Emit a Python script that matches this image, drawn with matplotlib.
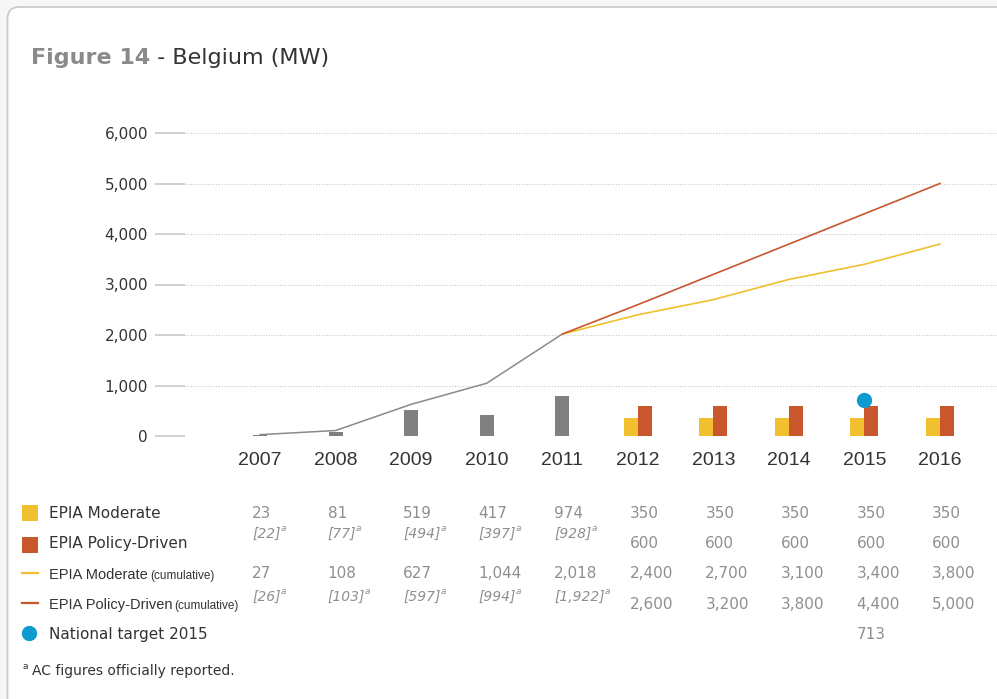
import numpy as np
import matplotlib
matplotlib.use("Agg")
import matplotlib.pyplot as plt
import matplotlib.transforms as mtransforms
from matplotlib.patches import FancyBboxPatch, Rectangle
from matplotlib.lines import Line2D

# ---- data ----
years = ['2007', '2008', '2009', '2010', '2011', '2012', '2013', '2014', '2015', '2016']
n_hist = 5

# historical annual (table values) and bar heights as drawn in the chart
hist_annual = [23, 81, 519, 417, 974]
hist_annual_ac = [22, 77, 494, 397, 928]
hist_bar = [23, 81, 519, 417, 790]        # 2011 bar is drawn lower than the table says
hist_cum = [27, 108, 627, 1044, 2018]
hist_cum_ac = [26, 103, 597, 994, 1922]

# forecasts 2012-2016
mod_annual = [350, 350, 350, 350, 350]
pol_annual = [600, 600, 600, 600, 600]
mod_cum = [2400, 2700, 3100, 3400, 3800]
pol_cum = [2600, 3200, 3800, 4400, 5000]

target_year = '2015'
target_value = 713

legend_labels = ['EPIA Moderate', 'EPIA Policy-Driven', 'EPIA Moderate', 'EPIA Policy-Driven',
                 'National target 2015']

GRAY_BAR = '#808083'
GRAY_LINE = '#8a8a8a'
YELLOW = '#f0c030'
ORANGE = '#c9572e'
BLUE = '#0e9bd0'
TXT = '#333333'
NUM = '#8f8f8f'

plt.rcParams['font.family'] = ['DejaVu Sans']

W, H = 997, 699
fig = plt.figure(figsize=(W / 100, H / 100), dpi=100, facecolor='#f6f6f6')


def fx(px):
    return px / W


def fy(py):
    return 1 - py / H


# white card with rounded corner
card = FancyBboxPatch((0.075, -0.5), 11, 6.92 + 0.5,
                      boxstyle='round,pad=0,rounding_size=0.12',
                      transform=fig.dpi_scale_trans, fc='white', ec='#c8c8c8', lw=1.2, zorder=-10)
fig.add_artist(card)

# ---- chart ----
ax = fig.add_axes([fx(185), fy(436), 1 - fx(185), (436 - 133) / H])
ax.set_facecolor('none')
x = np.arange(len(years))
w = 0.185

ax.bar(x[:n_hist], hist_bar, width=w, color=GRAY_BAR, zorder=2)
ax.bar(x[n_hist:] - w / 2, mod_annual, width=w, color=YELLOW, zorder=2)
ax.bar(x[n_hist:] + w / 2, pol_annual, width=w, color=ORANGE, zorder=2)

ax.plot(x[:n_hist], hist_cum, color=GRAY_LINE, lw=1.1, zorder=3)
ax.plot(x[n_hist - 1:], [hist_cum[-1]] + mod_cum, color=YELLOW, lw=1.2, zorder=3)
ax.plot(x[n_hist - 1:], [hist_cum[-1]] + pol_cum, color=ORANGE, lw=1.2, zorder=3)
ax.plot(years.index(target_year), target_value, 'o', ms=10, color=BLUE, zorder=4)

ax.set_xlim(-0.993, 9.755)
ax.set_ylim(0, 6000)
yt = np.arange(0, 6001, 1000)
ax.set_yticks(yt, [f'{v:,}' for v in yt])
ax.tick_params(axis='y', length=21.6, width=1.1, color='#c4c4c4', pad=5,
               labelsize=11, labelcolor=TXT)
ax.set_xticks(x, years)
ax.tick_params(axis='x', length=0, pad=11.5, labelsize=14, labelcolor=TXT)
for lab in ax.get_xticklabels():
    lab.set_fontfamily('Liberation Sans')
ax.grid(axis='y', ls=(0, (1, 1.5)), lw=0.8, color='#c8c8c8')
ax.set_axisbelow(True)
for s in ax.spines.values():
    s.set_visible(False)

# ---- title ----
renderer = fig.canvas.get_renderer()
t1 = fig.text(fx(31), fy(64), 'Figure 14', fontsize=16, weight='bold', color='#8a8a8a', va='baseline')
bb = t1.get_window_extent(renderer)
fig.text(bb.x1 / W, fy(64), ' - Belgium (MW)', fontsize=16, color=TXT, va='baseline')

# ---- table under the chart ----
col_tr = mtransforms.blended_transform_factory(ax.transData, fig.transFigure) + \
    mtransforms.ScaledTranslation(-8 / 100, 0, fig.dpi_scale_trans)


def put_row(cols, values, base_px, italic=False):
    for c, v in zip(cols, values):
        txt = f'[{v:,}]' if italic else f'{v:,}'
        t = ax.text(c, fy(base_px), txt, transform=col_tr, va='baseline', ha='left',
                    fontsize=10 if italic else 11, color=NUM,
                    style='italic' if italic else 'normal')
        if italic:
            ax.annotate('a', xy=(1, 1), xycoords=t, xytext=(0, 3), textcoords='offset pixels',
                        va='top', ha='left', fontsize=6.5, style='italic', color=NUM)


hist_cols = x[:n_hist]
fc_cols = x[n_hist:]
put_row(hist_cols, hist_annual, 518)
put_row(fc_cols, mod_annual, 518)
put_row(hist_cols, hist_annual_ac, 538, italic=True)
put_row(fc_cols, pol_annual, 548)
put_row(hist_cols, hist_cum, 578)
put_row(fc_cols, mod_cum, 578)
put_row(hist_cols, hist_cum_ac, 601, italic=True)
put_row(fc_cols, pol_cum, 609)
put_row([years.index(target_year)], [target_value], 639)

# ---- legend column ----
fig.add_artist(Rectangle((fx(22), fy(521)), 16 / W, 16 / H, transform=fig.transFigure,
                         fc=YELLOW, ec='none'))
fig.add_artist(Rectangle((fx(22), fy(553)), 16 / W, 16 / H, transform=fig.transFigure,
                         fc=ORANGE, ec='none'))
fig.add_artist(Line2D([fx(22), fx(38)], [fy(573)] * 2, color=YELLOW, lw=1.6,
                      transform=fig.transFigure))
fig.add_artist(Line2D([fx(22), fx(38)], [fy(603)] * 2, color=ORANGE, lw=1.6,
                      transform=fig.transFigure))
fig.add_artist(Line2D([fx(29)], [fy(633)], marker='o', ms=10, color=BLUE, lw=0,
                      transform=fig.transFigure))

fig.text(fx(49), fy(518), legend_labels[0], fontsize=11, color=TXT, va='baseline')
fig.text(fx(49), fy(548), legend_labels[1], fontsize=11, color=TXT, va='baseline')
for lab, base in [(legend_labels[2], 579), (legend_labels[3], 609)]:
    t = fig.text(fx(49), fy(base), lab, fontsize=10.5, family='Liberation Sans', color=TXT,
                 va='baseline')
    bb = t.get_window_extent(renderer)
    fig.text(bb.x1 / W + 2 / W, fy(base), '(cumulative)', fontsize=8.5,
             family='Liberation Sans', color=TXT, va='baseline')
fig.text(fx(49), fy(639), legend_labels[4], fontsize=11, color=TXT, va='baseline')

# footnote
fig.text(fx(22), fy(669), 'a', fontsize=6.5, color=TXT, va='baseline')
fig.text(fx(32), fy(675), 'AC figures officially reported.', fontsize=10, color=TXT,
         va='baseline')

fig.savefig('out.png', dpi=100, facecolor=fig.get_facecolor())
